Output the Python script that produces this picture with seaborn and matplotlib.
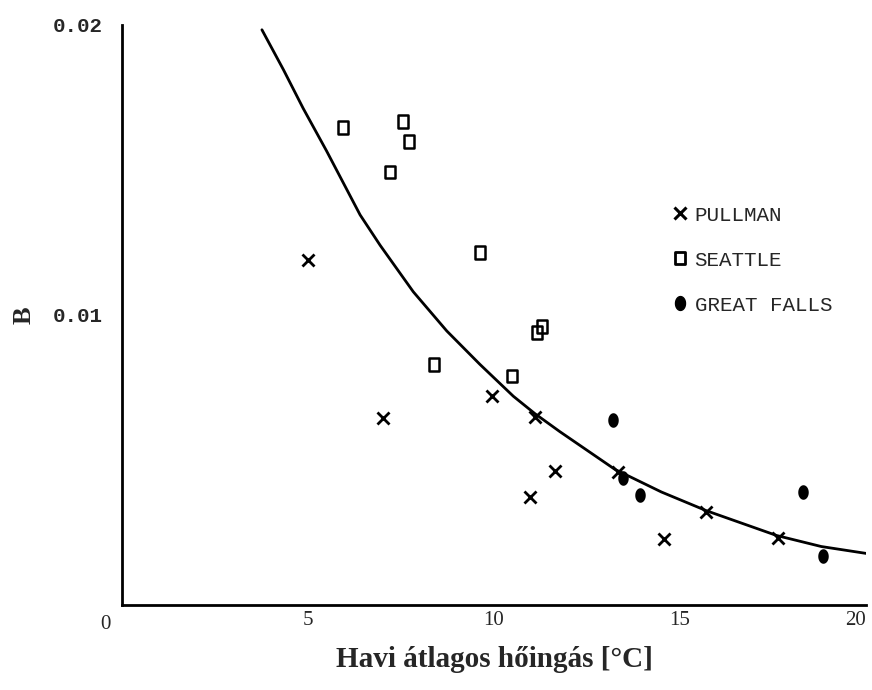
import numpy as np
import pandas as pd
import seaborn as sns
import matplotlib.pyplot as plt
from matplotlib.path import Path
from matplotlib.lines import Line2D

# Observed B values against mean monthly temperature range
pullman_x = [5.0, 7.02, 9.95, 11.1, 11.64, 10.97, 13.33, 14.57, 15.7, 17.63]
pullman_y = [0.0119, 0.00645, 0.0072, 0.00648, 0.00462, 0.00372, 0.00459, 0.00228, 0.00321, 0.00231]

seattle_x = [5.94, 7.55, 7.72, 7.2, 9.62, 11.16, 11.29, 8.39, 10.48]
seattle_y = [0.01645, 0.01666, 0.01597, 0.01493, 0.01214, 0.00941, 0.00959, 0.00828, 0.0079]

greatfalls_x = [13.2, 13.47, 13.92, 18.3, 18.84]
greatfalls_y = [0.00638, 0.00438, 0.00379, 0.0039, 0.00169]

# Fitted curve, sampled along its length
curve_x = [3.76, 4.34, 4.87, 5.50, 6.40, 6.94, 7.83, 8.73, 9.62, 10.52, 11.1,
           11.77, 13.25, 14.5, 15.72, 17.6, 18.8, 20.02]
curve_y = [0.01983, 0.01845, 0.01712, 0.01565, 0.01345, 0.0124, 0.0108, 0.00945,
           0.0083, 0.0072, 0.0066, 0.00598, 0.00468, 0.0039, 0.00325, 0.0024,
           0.00202, 0.00178]

x_ticks = [5, 10, 15, 20]
y_ticks = [0.01, 0.02]
y_ticklabels = ["0.01", "0.02"]
legend_labels = ["PULLMAN", "SEATTLE", "GREAT FALLS"]

sns.set_style("white")
plt.rcParams['font.family'] = ['Liberation Serif', 'DejaVu Serif']
mono = ['Liberation Mono', 'DejaVu Sans Mono']

fig = plt.figure(figsize=(8.72, 6.9), dpi=100)
ax = fig.add_axes([0.14, 0.123, 0.853, 0.841])

# tall rectangle and tall ellipse marker shapes
rect_marker = Path([(-0.75, -1), (0.75, -1), (0.75, 1), (-0.75, 1), (-0.75, -1)],
                   [Path.MOVETO, Path.LINETO, Path.LINETO, Path.LINETO, Path.CLOSEPOLY])
t = np.linspace(0, 2 * np.pi, 40)
ellipse_marker = Path(np.column_stack([0.72 * np.cos(t), np.sin(t)]))

curve = pd.DataFrame({"x": curve_x, "y": curve_y})
sns.lineplot(data=curve, x="x", y="y", ax=ax, color="black", lw=2.0, sort=False)

sns.scatterplot(x=pullman_x, y=pullman_y, ax=ax, marker="x", color="black",
                s=75, linewidth=2.0)
sns.scatterplot(x=seattle_x, y=seattle_y, ax=ax, marker=rect_marker, s=85,
                facecolor="none", edgecolor="black", linewidth=1.8)
sns.scatterplot(x=greatfalls_x, y=greatfalls_y, ax=ax, marker=ellipse_marker, s=110,
                color="black", linewidth=0)

ax.set_xlim(0, 20)
ax.set_ylim(0, 0.02)
sns.despine(ax=ax)
for side in ("left", "bottom"):
    ax.spines[side].set_linewidth(2.0)
    ax.spines[side].set_color("black")

ax.set_xticks(x_ticks)
ax.set_xticklabels([str(v) for v in x_ticks], fontsize=15)
ax.get_xticklabels()[-1].set_horizontalalignment("right")
ax.set_yticks(y_ticks)
ax.set_yticklabels(y_ticklabels, fontsize=15, family=mono, fontweight="bold")
ax.tick_params(axis="both", direction="in", length=7, width=1.5, color="black")
ax.tick_params(axis="x", pad=4)
ax.tick_params(axis="y", pad=14)
ax.text(-0.45, -0.00035, "0", fontsize=15, ha="center", va="top")

ax.set_xlabel("Havi átlagos hőingás [°C]", fontsize=21, fontweight="bold", labelpad=12)
ax.set_ylabel("B", fontsize=19, fontweight="bold", labelpad=12)

handles = [
    Line2D([], [], ls="none", marker="x", color="black", markersize=9, markeredgewidth=2.2),
    Line2D([], [], ls="none", marker=rect_marker, markerfacecolor="none",
           markeredgecolor="black", markersize=9, markeredgewidth=2.0),
    Line2D([], [], ls="none", marker=ellipse_marker, color="black", markersize=10),
]
ax.legend(handles, legend_labels, loc="upper left", bbox_to_anchor=(0.722, 0.703),
          frameon=False, handletextpad=0.1, handlelength=1.2, labelspacing=1.25,
          borderaxespad=0, prop={"family": mono, "size": 15})

fig.savefig("out.png", dpi=100, facecolor="white")
